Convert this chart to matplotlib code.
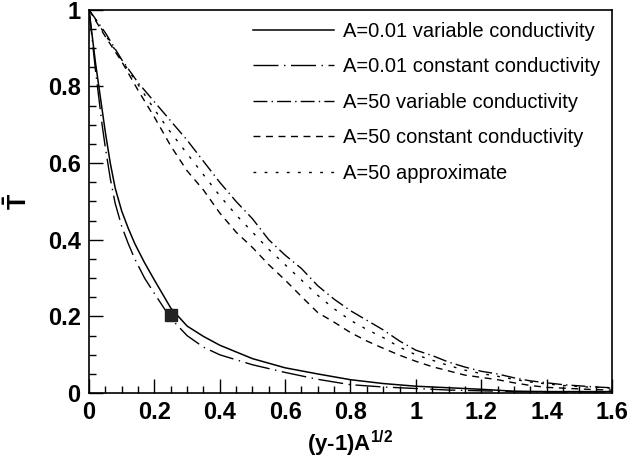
import matplotlib.pyplot as plt
import numpy as np

plt.rcParams['font.family'] = ['Liberation Sans', 'DejaVu Sans']
plt.rcParams['mathtext.fontset'] = 'custom'
plt.rcParams['mathtext.rm'] = 'Liberation Sans'
plt.rcParams['mathtext.bf'] = 'Liberation Sans:bold'

# A = 0.01 curves
x_small = [0, 0.01, 0.02, 0.03, 0.04, 0.05, 0.065, 0.08, 0.10, 0.12, 0.14, 0.17,
           0.20, 0.25, 0.30, 0.35, 0.40, 0.50, 0.60, 0.70, 0.80, 0.90, 1.0, 1.1,
           1.2, 1.3, 1.4, 1.5, 1.6]
t_small_var = [1, 0.93, 0.86, 0.80, 0.74, 0.68, 0.60, 0.535, 0.475, 0.43, 0.39, 0.34,
               0.295, 0.222, 0.175, 0.148, 0.125, 0.09, 0.066, 0.05, 0.035, 0.025, 0.018,
               0.014, 0.01, 0.005, 0.004, 0.004, 0.004]
t_small_const = [1, 0.92, 0.84, 0.77, 0.70, 0.64, 0.56, 0.495, 0.435, 0.39, 0.35, 0.30,
                 0.26, 0.195, 0.15, 0.12, 0.10, 0.074, 0.054, 0.036, 0.022, 0.016, 0.012,
                 0.008, 0.006, 0.004, 0.003, 0.003, 0.003]

# A = 50 curves
x_large = [0, 0.05, 0.10, 0.15, 0.20, 0.25, 0.30, 0.35, 0.40, 0.45, 0.50, 0.55, 0.60,
           0.65, 0.70, 0.75, 0.80, 0.85, 0.90, 0.95, 1.00, 1.05, 1.10, 1.15, 1.20,
           1.25, 1.30, 1.35, 1.40, 1.45, 1.50, 1.55, 1.60]
t_large_var = [1.0, 0.94, 0.87, 0.81, 0.76, 0.71, 0.66, 0.605, 0.55, 0.50, 0.455, 0.40,
               0.36, 0.325, 0.28, 0.245, 0.215, 0.19, 0.165, 0.136, 0.112, 0.098, 0.081,
               0.068, 0.057, 0.05, 0.04, 0.032, 0.027, 0.022, 0.019, 0.016, 0.014]
t_large_const = [1.0, 0.93, 0.865, 0.79, 0.72, 0.645, 0.58, 0.53, 0.47, 0.42, 0.38, 0.335,
                 0.295, 0.252, 0.21, 0.185, 0.158, 0.136, 0.117, 0.099, 0.083, 0.069,
                 0.058, 0.047, 0.041, 0.035, 0.027, 0.02, 0.015, 0.013, 0.011, 0.009, 0.008]
t_large_approx = [1.0, 0.935, 0.868, 0.805, 0.74, 0.68, 0.625, 0.57, 0.515, 0.465, 0.42,
                  0.375, 0.335, 0.295, 0.255, 0.22, 0.19, 0.166, 0.145, 0.12, 0.1, 0.086,
                  0.072, 0.06, 0.051, 0.044, 0.036, 0.029, 0.024, 0.02, 0.017, 0.015, 0.013]

marker_x = [0.25]
marker_y = [0.205]

labels = ['A=0.01 variable conductivity', 'A=0.01 constant conductivity',
          'A=50 variable conductivity', 'A=50 constant conductivity',
          'A=50 approximate']


def main() -> None:
    fig = plt.figure(figsize=(6.27, 4.68), dpi=100)
    ax = fig.add_axes([0.142, 0.160, 0.834, 0.819])

    ax.plot(x_small, t_small_var, color='black', lw=1.1, ls='-', label=labels[0])
    ax.plot(x_small, t_small_const, color='black', lw=1.0,
            dashes=(18, 4, 1, 4), label=labels[1])
    ax.plot(x_large, t_large_var, color='black', lw=1.0,
            dashes=(10, 3, 1, 3), label=labels[2])
    ax.plot(x_large, t_large_const, color='black', lw=1.0,
            dashes=(5, 4), label=labels[3])
    ax.plot(x_large, t_large_approx, color='black', lw=1.0,
            dashes=(2, 6), label=labels[4])
    ax.plot(marker_x, marker_y, ls='none', marker='s', ms=8, color='#222222')

    ax.set_xlim(0, 1.6)
    ax.set_ylim(0, 1)
    ax.set_xticks(np.arange(0, 1.61, 0.2))
    ax.set_xticklabels(['0', '0.2', '0.4', '0.6', '0.8', '1', '1.2', '1.4', '1.6'])
    ax.set_yticks(np.arange(0, 1.01, 0.2))
    ax.set_yticklabels(['0', '0.2', '0.4', '0.6', '0.8', '1'])
    ax.set_xticks(np.arange(0, 1.61, 0.05), minor=True)
    ax.set_yticks(np.arange(0, 1.01, 0.05), minor=True)
    ax.tick_params(which='both', direction='in', top=False, right=False,
                   labelsize=17, pad=6)
    ax.tick_params(which='major', length=10, width=1)
    ax.tick_params(which='minor', length=5, width=1)
    for lab in ax.get_xticklabels() + ax.get_yticklabels():
        lab.set_fontweight('bold')
    for sp in ax.spines.values():
        sp.set_linewidth(1.2)

    ax.set_xlabel(r'(y-1)A$^{\mathbf{1/2}}$', fontsize=16, fontweight='bold', labelpad=3)
    ax.set_ylabel(r'$\mathbf{\bar{T}}$', fontsize=18)
    ax.yaxis.set_label_coords(-0.11, 0.5)

    ax.legend(loc='upper right', frameon=False, fontsize=14.5, handlelength=4.0,
              handletextpad=0.45, labelspacing=0.82, borderaxespad=0.2)

    fig.savefig('out.png', dpi=100)


if __name__ == '__main__':
    main()
